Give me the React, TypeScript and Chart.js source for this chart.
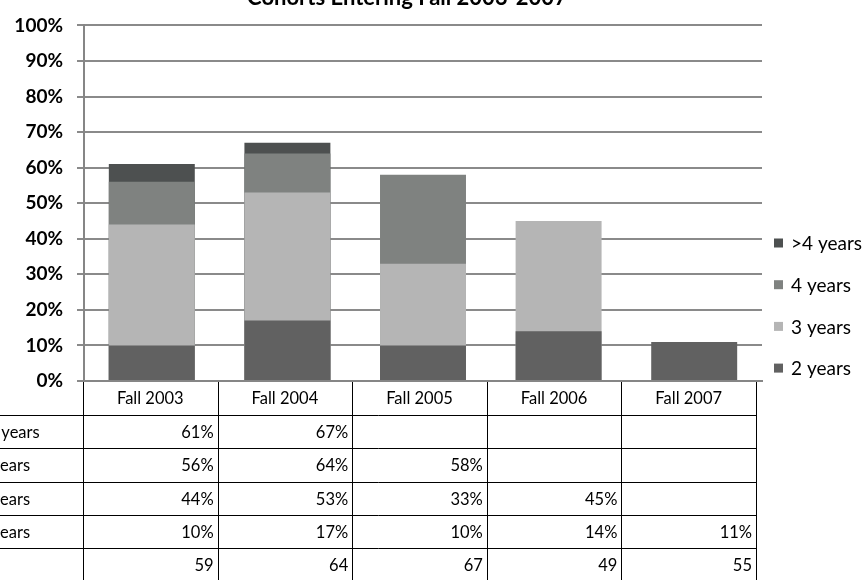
import React, { useEffect, useRef } from "react";
import { Chart, registerables } from "chart.js";

Chart.register(...registerables);

const titleText = "Cohorts Entering Fall 2003-2007";
const categories = ["Fall 2003", "Fall 2004", "Fall 2005", "Fall 2006", "Fall 2007"];
const seriesLabels = ["2 years", "3 years", "4 years", ">4 years"];
const twoYears = [10, 17, 10, 14, 11];
const threeYears = [44, 53, 33, 45, null];
const fourYears = [56, 64, 58, null, null];
const overFourYears = [61, 67, null, null, null];
const cohortLabel = "N";
const cohortSize = [59, 64, 67, 49, 55];
const seriesColors = ["#616161", "#b5b5b5", "#7f8280", "#4d5050"];

const FONT = "Lato, 'Open Sans', sans-serif";

const overlayPlugin = {
  id: "overlay",
  afterDraw(chart: any) {
    const ctx = chart.ctx as CanvasRenderingContext2D;
    const area = chart.chartArea;
    ctx.save();

    // Title (clipped at top as in reference)
    ctx.fillStyle = "#000";
    ctx.font = `bold 22px ${FONT}`;
    ctx.textAlign = "center";
    ctx.textBaseline = "alphabetic";
    ctx.fillText(titleText, 407, 5);

    // Legend (top to bottom: last dataset first)
    const ds = chart.data.datasets;
    ctx.font = `19px ${FONT}`;
    ctx.textAlign = "left";
    ctx.textBaseline = "middle";
    for (let i = 0; i < ds.length; i++) {
      const d = ds[ds.length - 1 - i];
      const cy = 243 + i * 41.7;
      ctx.fillStyle = d.backgroundColor;
      ctx.fillRect(area.right + 12, cy - 4.5, 9, 9);
      ctx.fillStyle = "#000";
      ctx.fillText(d.label, area.right + 29, cy + 1);
    }

    // Data table
    const tableLeft = area.left - 1;
    const tableRight = area.right - 6;
    const colW = (tableRight - tableLeft) / categories.length;
    const top = area.bottom;
    const headerH = 34;
    const rowH = 33.3;
    const rows: { label: string; values: (string | null)[] }[] = [];
    for (let i = ds.length - 1; i >= 0; i--) {
      rows.push({
        label: ds[i].label,
        values: ds[i].data.map((v: number | null) => (v == null ? null : v + "%")),
      });
    }
    rows.push({ label: cohortLabel, values: cohortSize.map((v) => String(v)) });
    const bottom = chart.height;

    ctx.strokeStyle = "#000";
    ctx.lineWidth = 1;
    ctx.beginPath();
    for (let c = 0; c <= categories.length; c++) {
      const x = Math.round(tableLeft + c * colW) + 0.5;
      ctx.moveTo(x, top + 1);
      ctx.lineTo(x, bottom);
    }
    for (let r = 0; r < rows.length; r++) {
      const y = Math.round(top + headerH + r * rowH) + 0.5;
      ctx.moveTo(0, y);
      ctx.lineTo(Math.round(tableRight) + 0.5, y);
    }
    ctx.stroke();

    ctx.fillStyle = "#000";
    ctx.font = `16.5px ${FONT}`;
    ctx.textBaseline = "middle";
    ctx.textAlign = "center";
    categories.forEach((c, i) => {
      ctx.fillText(c, tableLeft + (i + 0.5) * colW, top + headerH / 2 + 1);
    });
    rows.forEach((row, r) => {
      const cy = top + headerH + (r + 0.5) * rowH + 1;
      ctx.textAlign = "left";
      ctx.fillText(row.label, -22, cy);
      ctx.textAlign = "right";
      row.values.forEach((v, i) => {
        if (v != null) ctx.fillText(v, tableLeft + (i + 1) * colW - 4, cy);
      });
    });

    ctx.restore();
  },
};

export default function App() {
  const ref = useRef<HTMLCanvasElement | null>(null);
  useEffect(() => {
    if (!ref.current) return;
    const seriesData = [twoYears, threeYears, fourYears, overFourYears];
    const chart = new Chart(ref.current, {
      type: "bar",
      data: {
        labels: categories,
        datasets: seriesLabels.map((label, i) => ({
          label,
          data: seriesData[i],
          backgroundColor: seriesColors[i],
          borderWidth: 0,
          barPercentage: 0.634,
          categoryPercentage: 1,
        })),
      },
      options: {
        responsive: false,
        animation: false,
        layout: { padding: { top: 17, right: 103, left: 0, bottom: 0 } },
        plugins: {
          legend: { display: false },
          title: { display: false },
          tooltip: { enabled: false },
        },
        scales: {
          x: {
            stacked: true,
            ticks: { display: false },
            grid: { display: false },
            border: { display: true, color: "#868686", width: 2 },
            afterFit: (scale: any) => {
              scale.height = 199;
            },
          },
          y: {
            stacked: false,
            min: 0,
            max: 100,
            ticks: {
              stepSize: 10,
              callback: (v: any) => v + "%",
              color: "#000",
              padding: 14,
              font: { family: FONT, size: 19, weight: "bold" },
            },
            grid: { color: "#8a8a8a", lineWidth: 2, tickLength: 7 },
            border: { display: true, color: "#868686", width: 2 },
            afterFit: (scale: any) => {
              scale.width = 84;
            },
          },
        },
      },
      plugins: [overlayPlugin],
    } as any);
    return () => chart.destroy();
  }, []);
  return (
    <div style={{ position: "fixed", left: 0, top: 0, width: 865, height: 580, background: "#fff" }}>
      <canvas ref={ref} width={865} height={580} style={{ display: "block" }} />
    </div>
  );
}
